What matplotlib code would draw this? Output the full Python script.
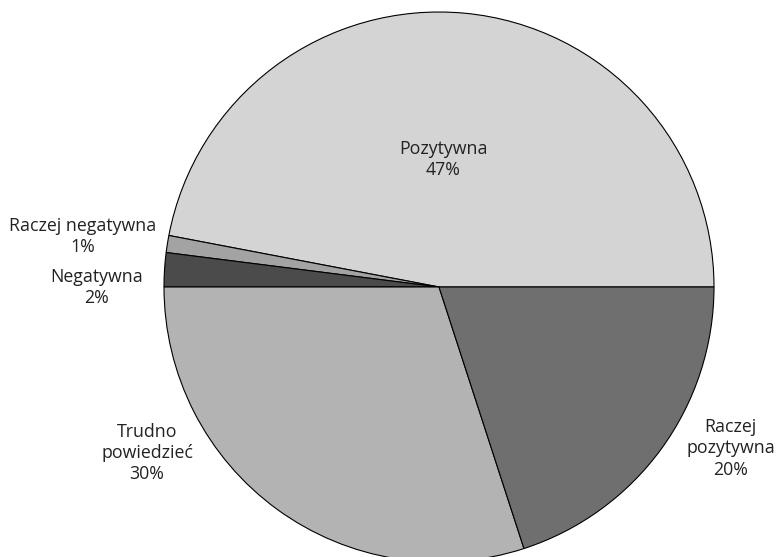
import matplotlib
matplotlib.use("Agg")
import matplotlib.pyplot as plt

plt.rcParams['font.family'] = ['Open Sans', 'DejaVu Sans']

# dane (kolejność przeciwnie do ruchu wskazówek zegara od godz. 3)
labels = ["Pozytywna", "Raczej negatywna", "Negatywna", "Trudno\npowiedzieć", "Raczej\npozytywna"]
values = [47, 1, 2, 30, 20]
colors = ["#d4d4d4", "#a3a3a3", "#4b4b4b", "#b3b3b3", "#6f6f6f"]

# pozycje etykiet (jednostki promienia)
label_pos = [(0.015, 0.465), (-1.295, 0.182), (-1.244, -0.003), (-1.062, -0.604), (1.06, -0.587)]

W, H = 777, 557
CX, CY, R = 439, 287, 275   # środek i promień w px

fig = plt.figure(figsize=(W / 100, H / 100), dpi=100)
ax = fig.add_axes([0, 0, 1, 1])
ax.pie(values, colors=colors, startangle=0, counterclock=True, radius=1.0,
       wedgeprops=dict(edgecolor="black", linewidth=0.8))
ax.set_xlim(-CX / R, (W - CX) / R)
ax.set_ylim(-(H - CY) / R, CY / R)
ax.set_aspect("auto")
ax.axis("off")

for lab, v, (x, y) in zip(labels, values, label_pos):
    ax.text(x, y, f"{lab}\n{v}%", ha="center", va="center", fontsize=12.8,
            color="#222222", linespacing=1.22)

fig.savefig("out.png", dpi=100)
